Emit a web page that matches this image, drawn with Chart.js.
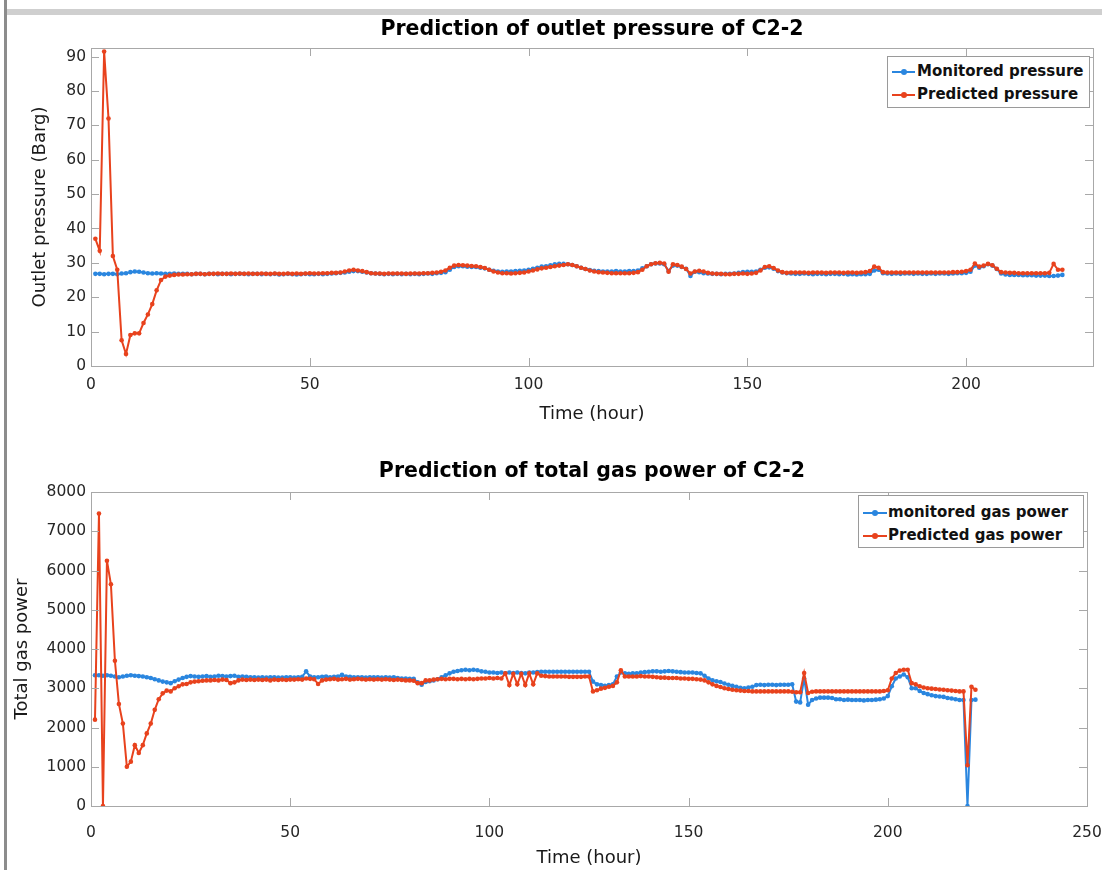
<!DOCTYPE html>
<html>
<head>
<meta charset="utf-8">
<title>Prediction of C2-2</title>
<script src="https://cdn.jsdelivr.net/npm/chart.js"></script>
<style>
  body { margin: 0; background: #fff; }
  #page { position: relative; width: 1102px; height: 870px; overflow: hidden; background: #fff; font-family: 'DejaVu Sans', sans-serif; }
  canvas { position: absolute; left: 0; }
  #pressureChart { top: 0; }
  #powerChart { top: 440px; }
  .frame-left { position: absolute; left: 4px; top: 0; width: 3px; height: 870px; background: #8c8c8c; }
  .frame-top { position: absolute; left: 7px; top: 9px; width: 1095px; height: 6px; background: #cfcfcf; }
  .title { position: absolute; left: 91px; width: 1002px; text-align: center; font-weight: bold; font-size: 20.5px; line-height: 24px; color: #000; }
  .legend { position: absolute; background: #fff; border: 1px solid #9a9a9a; font-weight: bold; font-size: 15px; color: #111; box-sizing: border-box; }
  .legend div { height: 23px; line-height: 23px; white-space: nowrap; }
  .swatch { display: inline-block; position: relative; width: 23px; height: 2px; vertical-align: middle; margin: 0 2px 0 4px; }
  .swatch::after { content: ''; position: absolute; left: 9px; top: -2px; width: 6px; height: 6px; border-radius: 50%; background: inherit; }
</style>
</head>
<body>
<div id="page">
  <div class="frame-left"></div>
  <div class="frame-top"></div>
  <canvas id="pressureChart" width="1102" height="440"></canvas>
  <canvas id="powerChart" width="1102" height="430"></canvas>
  <div class="title" style="top:16px">Prediction of outlet pressure of C2-2</div>
  <div class="title" style="top:458px">Prediction of total gas power of C2-2</div>
  <div class="legend" style="left:887px; top:56px; width:203px; height:52px; padding-top:3px">
    <div><span class="swatch" style="background:#2a86df"></span>Monitored pressure</div>
    <div><span class="swatch" style="background:#e8421d"></span>Predicted pressure</div>
  </div>
  <div class="legend" style="left:858px; top:495px; width:226px; height:53px; padding-top:5px">
    <div><span class="swatch" style="background:#2a86df; width:24px; margin-right:1px"></span>monitored gas power</div>
    <div><span class="swatch" style="background:#e8421d; width:24px; margin-right:1px"></span>Predicted gas power</div>
  </div>
</div>

<script>
// hourly readings, hour 1 .. 222
const monitoredPressure = [
  26.8, 26.8, 26.7, 26.8, 26.8, 26.7, 26.9, 27.0, 27.3, 27.5,
  27.4, 27.2, 27.0, 26.9, 27.0, 26.9, 26.8, 26.8, 26.9, 26.8,
  26.8, 26.8, 26.7, 26.8, 26.8, 26.7, 26.8, 26.8, 26.7, 26.8,
  26.8, 26.7, 26.8, 26.8, 26.8, 26.7, 26.8, 26.8, 26.7, 26.8,
  26.7, 26.8, 26.6, 26.7, 26.8, 26.7, 26.6, 26.7, 26.8, 26.7,
  26.7, 26.8, 26.7, 26.8, 26.9, 27.0, 27.1, 27.2, 27.4, 27.6,
  27.6, 27.4, 27.2, 27.0, 26.9, 26.8, 26.7, 26.8, 26.7, 26.8,
  26.7, 26.8, 26.7, 26.8, 26.7, 26.8, 26.9, 26.8, 27.0, 27.1,
  27.3, 28.0, 28.8, 29.0, 29.0, 28.9, 28.8, 28.8, 28.6, 28.4,
  28.0, 27.7, 27.5, 27.4, 27.5, 27.5, 27.6, 27.7, 27.8, 28.0,
  28.3, 28.6, 28.9, 29.0, 29.3, 29.6, 29.7, 29.7, 29.6, 29.4,
  29.0, 28.6, 28.2, 27.9, 27.7, 27.6, 27.5, 27.5, 27.5, 27.6,
  27.5, 27.5, 27.6, 27.6, 27.8, 28.4, 29.0, 29.6, 29.8, 29.8,
  29.6, 27.6, 29.2, 29.2, 28.8, 28.3, 26.2, 27.4, 27.3, 27.0,
  26.9, 26.8, 26.8, 26.7, 26.8, 26.8, 26.9, 27.1, 27.3, 27.4,
  27.4, 27.5, 28.0, 28.6, 28.7, 28.3, 27.6, 27.2, 27.0, 26.9,
  26.8, 26.8, 26.9, 26.8, 26.7, 26.8, 26.8, 26.7, 26.8, 26.8,
  26.7, 26.8, 26.6, 26.7, 26.6, 26.7, 26.7, 26.8, 27.8, 28.0,
  27.0, 26.9, 26.8, 26.9, 26.8, 26.9, 26.9, 26.8, 26.9, 26.8,
  26.8, 26.9, 26.8, 26.9, 26.9, 26.8, 26.9, 27.0, 27.0, 27.1,
  27.4, 29.2, 28.6, 29.0, 29.6, 29.2, 28.2, 26.9, 26.6, 26.5,
  26.5, 26.5, 26.4, 26.4, 26.4, 26.3, 26.3, 26.3, 26.2, 26.2,
  26.3, 26.5
];

const predictedPressure = [
  37.0, 33.5, 91.5, 72.0, 32.0, 28.0, 7.5, 3.5, 9.0, 9.5,
  9.5, 12.5, 15.0, 18.0, 22.0, 25.0, 26.0, 26.3, 26.5, 26.6,
  26.6, 26.7, 26.7, 26.8, 26.8, 26.7, 26.8, 26.8, 26.9, 26.8,
  26.8, 26.9, 26.8, 26.9, 26.8, 26.9, 26.8, 26.8, 26.9, 26.8,
  26.8, 26.9, 26.8, 26.8, 26.9, 26.8, 26.9, 26.8, 26.9, 27.0,
  26.9, 26.9, 27.0, 27.0, 27.1, 27.1, 27.2, 27.5, 27.8, 28.0,
  27.8, 27.6, 27.3, 27.0, 26.9, 26.9, 26.8, 26.9, 26.9, 26.9,
  26.9, 26.8, 26.9, 26.9, 26.9, 27.0, 27.0, 27.1, 27.2, 27.4,
  27.8, 28.6, 29.2, 29.4, 29.3, 29.2, 29.1, 29.0, 28.8, 28.5,
  28.0, 27.5, 27.2, 27.0, 27.0, 26.9, 27.0, 27.1, 27.2, 27.5,
  27.8, 28.1, 28.4, 28.6, 28.8, 29.0, 29.2, 29.4, 29.6, 29.4,
  29.0, 28.6, 28.2, 27.8, 27.5, 27.3, 27.2, 27.1, 27.0, 27.0,
  27.0, 27.0, 27.0, 27.1, 27.3, 28.0, 29.0, 29.6, 29.9, 30.0,
  29.8, 27.4, 29.6, 29.4, 28.9, 28.2, 26.9, 27.5, 27.7, 27.5,
  27.1, 26.9, 26.8, 26.8, 26.7, 26.7, 26.8, 26.8, 26.9, 26.8,
  26.9, 27.1, 27.8, 28.8, 29.0, 28.5, 27.8, 27.3, 27.1, 27.2,
  27.2, 27.2, 27.2, 27.1, 27.2, 27.2, 27.2, 27.1, 27.2, 27.2,
  27.2, 27.1, 27.2, 27.2, 27.1, 27.2, 27.3, 27.6, 28.9, 28.6,
  27.3, 27.2, 27.2, 27.2, 27.2, 27.2, 27.2, 27.2, 27.2, 27.2,
  27.2, 27.2, 27.2, 27.2, 27.2, 27.2, 27.3, 27.3, 27.4, 27.6,
  28.0, 29.8, 28.9, 29.2, 29.7, 29.3, 28.3, 27.3, 27.2, 27.1,
  27.1, 27.0, 27.0, 27.0, 27.0, 27.0, 27.0, 27.0, 27.1, 29.7,
  28.0, 28.0
];

const monitoredPower = [
  3330, 3330, 3320, 3330, 3320, 3300, 3280, 3300, 3320, 3330,
  3320, 3310, 3300, 3280, 3260, 3230, 3200, 3170, 3150, 3130,
  3180, 3220, 3260, 3290, 3310, 3300, 3290, 3300, 3310, 3290,
  3300, 3320, 3310, 3300, 3310, 3320, 3290, 3300, 3290, 3280,
  3280, 3270, 3280, 3270, 3280, 3280, 3270, 3270, 3280, 3280,
  3270, 3280, 3290, 3430, 3300, 3280, 3280, 3290, 3300, 3280,
  3290, 3300, 3340, 3300, 3290, 3280, 3280, 3280, 3270, 3280,
  3280, 3280, 3270, 3280, 3270, 3280, 3260, 3250, 3250, 3240,
  3240, 3150, 3090, 3160, 3180, 3200, 3230, 3280, 3330, 3380,
  3420, 3440, 3460, 3470, 3460, 3470, 3460, 3430, 3420, 3400,
  3400, 3390, 3400, 3380, 3400, 3390, 3400, 3390, 3380, 3400,
  3400, 3410, 3420, 3420, 3420, 3420, 3420, 3420, 3420, 3420,
  3420, 3420, 3420, 3420, 3420, 3170, 3100, 3080, 3060, 3080,
  3100, 3300, 3400, 3380, 3370, 3380, 3380, 3400, 3410, 3420,
  3430, 3430, 3420, 3430, 3440, 3430, 3420, 3410, 3400, 3400,
  3400, 3390, 3380, 3320, 3250, 3200, 3180, 3160, 3120, 3090,
  3060, 3040, 3010, 3000, 3020, 3040, 3080, 3090, 3080, 3090,
  3090, 3080, 3090, 3090, 3090, 3100, 2660, 2640, 3250, 2580,
  2700, 2740, 2760, 2760, 2760, 2750, 2720, 2720, 2700, 2710,
  2700, 2700, 2700, 2690, 2700, 2700, 2710, 2720, 2740, 2800,
  3050, 3250, 3300, 3350, 3280, 3000, 3000, 2930, 2880, 2850,
  2820, 2800, 2790, 2780, 2750, 2740, 2720, 2700, 2700, 0,
  2700, 2710
];

const predictedPower = [
  2200, 7450, 0, 6250, 5650, 3700, 2600, 2100, 1000, 1130,
  1550, 1350, 1550, 1850, 2100, 2450, 2720, 2870, 2940, 2920,
  3000, 3050, 3100, 3110, 3150, 3170, 3180, 3190, 3200, 3200,
  3210, 3200, 3220, 3210, 3130, 3150, 3200, 3220, 3210, 3220,
  3210, 3220, 3210, 3220, 3200, 3220, 3210, 3220, 3210, 3220,
  3220, 3230, 3220, 3250, 3240, 3230, 3110, 3200, 3220, 3230,
  3240, 3220, 3230, 3240, 3220, 3230, 3240, 3230, 3220, 3230,
  3220, 3230, 3220, 3230, 3220, 3210, 3220, 3210, 3200, 3200,
  3190, 3130, 3130, 3200, 3200, 3220, 3230, 3240, 3230, 3240,
  3240, 3230, 3240, 3230, 3240, 3230, 3240, 3250, 3250, 3260,
  3250, 3260, 3250, 3380, 3080, 3370, 3100, 3370, 3080, 3380,
  3100, 3380, 3320, 3310, 3300, 3300, 3300, 3300, 3300, 3290,
  3290, 3290, 3290, 3300, 3300, 2920, 2950, 2990, 3010, 3040,
  3060, 3150, 3460, 3300, 3300, 3300, 3300, 3310, 3300, 3300,
  3290, 3280, 3270, 3270, 3260, 3260, 3260, 3250, 3250, 3240,
  3240, 3230, 3220, 3200, 3150, 3100, 3060, 3030, 3000, 2980,
  2960, 2950, 2940, 2930, 2930, 2920, 2920, 2920, 2920, 2920,
  2920, 2920, 2920, 2920, 2920, 2910, 2900, 2900, 3390, 2880,
  2910, 2920, 2920, 2920, 2920, 2920, 2920, 2920, 2920, 2920,
  2920, 2920, 2920, 2920, 2920, 2920, 2920, 2920, 2930, 2950,
  3250, 3390, 3450, 3470, 3470, 3130, 3100, 3050, 3020, 3000,
  2990, 2980, 2970, 2960, 2950, 2940, 2930, 2920, 2920, 1040,
  3040, 2960
];

const pressureTimeTicks = [0, 50, 100, 150, 200];
const powerTimeTicks = [0, 50, 100, 150, 200, 250];
const pressureTicks = [0, 10, 20, 30, 40, 50, 60, 70, 80, 90];
const powerTicks = [0, 1000, 2000, 3000, 4000, 5000, 6000, 7000, 8000];

const hours = monitoredPressure.map((_, i) => i + 1);

const blue = '#2a86df';
const red = '#e8421d';
const tickColor = '#262626';
const boxColor = '#a8a8a8';

// MATLAB style box: frame plus inward tick marks on all four sides
const boxTicks = {
  id: 'boxTicks',
  afterDraw(chart) {
    const { ctx, chartArea: a, scales: { x, y } } = chart;
    const len = 8;
    ctx.save();
    ctx.strokeStyle = boxColor;
    ctx.lineWidth = 1;
    ctx.strokeRect(Math.round(a.left) + 0.5, Math.round(a.top) + 0.5, Math.round(a.width), Math.round(a.height));
    ctx.beginPath();
    x.ticks.forEach(t => {
      const px = Math.round(x.getPixelForValue(t.value)) + 0.5;
      ctx.moveTo(px, a.bottom); ctx.lineTo(px, a.bottom - len);
      ctx.moveTo(px, a.top); ctx.lineTo(px, a.top + len);
    });
    y.ticks.forEach(t => {
      const py = Math.round(y.getPixelForValue(t.value)) + 0.5;
      ctx.moveTo(a.left, py); ctx.lineTo(a.left + len, py);
      ctx.moveTo(a.right, py); ctx.lineTo(a.right - len, py);
    });
    ctx.stroke();
    ctx.restore();
  }
};

function series(label, values, color, order) {
  return {
    label: label,
    order: order,
    data: values.map((v, i) => ({ x: hours[i], y: v })),
    borderColor: color,
    backgroundColor: color,
    borderWidth: 2,
    pointRadius: 2.3,
    pointHoverRadius: 2.3,
    pointBorderWidth: 0,
    tension: 0
  };
}

function options(o) {
  const tickFont = { family: "'DejaVu Sans'", size: 15.5 };
  const axisFont = { family: "'DejaVu Sans'", size: 18 };
  return {
    responsive: false,
    animation: false,
    devicePixelRatio: 1,
    layout: { padding: { top: o.top, right: o.right, left: 0, bottom: 0 } },
    plugins: { legend: { display: false }, tooltip: { enabled: false }, title: { display: false } },
    scales: {
      x: {
        type: 'linear', min: 0, max: o.xMax,
        grid: { display: false, drawTicks: false },
        border: { display: false },
        ticks: { autoSkip: false, maxRotation: 0, padding: o.xPad, color: tickColor, font: tickFont,
                 callback: v => String(v) },
        afterBuildTicks: s => { s.ticks = o.xTicks.map(v => ({ value: v })); },
        afterFit: s => { s.height = o.xHeight; s.paddingLeft = 0; s.paddingRight = 0; },
        title: { display: true, text: 'Time (hour)', color: '#1a1a1a', font: axisFont, padding: { top: 0, bottom: o.xTitlePad } }
      },
      y: {
        type: 'linear', min: 0, max: o.yMax,
        grid: { display: false, drawTicks: false },
        border: { display: false },
        ticks: { autoSkip: false, padding: 5, color: tickColor, font: tickFont, callback: v => String(v) },
        afterBuildTicks: s => { s.ticks = o.yTicks.map(v => ({ value: v })); },
        afterFit: s => { s.width = 91; s.paddingTop = 0; s.paddingBottom = 0; },
        title: { display: true, text: o.yTitle, color: '#1a1a1a', font: axisFont, padding: { top: o.yTitlePad, bottom: 0 } }
      }
    }
  };
}

new Chart(document.getElementById('pressureChart'), {
  type: 'line',
  data: {
    datasets: [
      series('Predicted pressure', predictedPressure, red, 0),
      series('Monitored pressure', monitoredPressure, blue, 1)
    ]
  },
  options: options({ top: 48, right: 9, xMax: 229, xTicks: pressureTimeTicks, xHeight: 74, xPad: 10, xTitlePad: 15,
                     yMax: 92.5, yTicks: pressureTicks, yTitle: 'Outlet pressure (Barg)', yTitlePad: 30 }),
  plugins: [boxTicks]
});

new Chart(document.getElementById('powerChart'), {
  type: 'line',
  data: {
    datasets: [
      series('Predicted gas power', predictedPower, red, 0),
      series('monitored gas power', monitoredPower, blue, 1)
    ]
  },
  options: options({ top: 52, right: 15, xMax: 250, xTicks: powerTimeTicks, xHeight: 64, xPad: 18, xTitlePad: 1,
                     yMax: 8000, yTicks: powerTicks, yTitle: 'Total gas power', yTitlePad: 12 }),
  plugins: [boxTicks]
});
</script>
</body>
</html>
